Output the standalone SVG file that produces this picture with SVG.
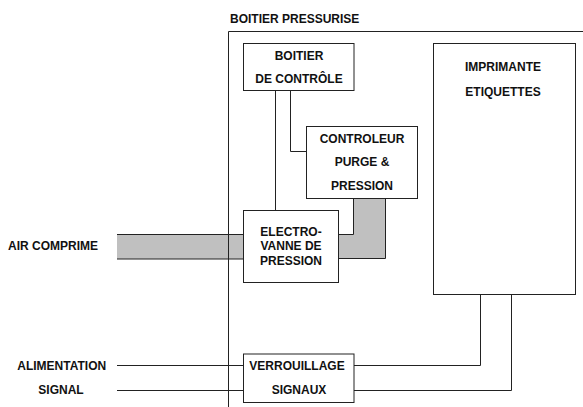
<svg xmlns="http://www.w3.org/2000/svg" width="583" height="407" viewBox="0 0 583 407">
<style>
text{font-family:"Liberation Sans",Arial,sans-serif;font-size:12px;font-weight:bold;fill:#111;text-anchor:middle}
.box{fill:#fff;stroke:#222;stroke-width:1}
.ln{fill:none;stroke:#222;stroke-width:1}
.pipe{fill:#c0c0c0;stroke:none}
</style>
<rect width="583" height="407" fill="#fff"/>
<g id="enclosure">
<text x="230" y="23" style="text-anchor:start">BOITIER PRESSURISE</text>
</g>
<g id="connectors">
<rect class="pipe" x="117" y="234.5" width="127" height="24.5"/>
<line class="ln" x1="117" y1="234.5" x2="243.5" y2="234.5"/>
<line class="ln" x1="117" y1="259" x2="243.5" y2="259"/>
<polygon class="pipe" points="338.5,234.5 353.5,234.5 353.5,198.5 385.5,198.5 385.5,258.5 338.5,258.5"/>
<polyline class="ln" points="338.5,234.5 353.5,234.5 353.5,198.5"/>
<polyline class="ln" points="338.5,258.5 385.5,258.5 385.5,198.5"/>
<line class="ln" x1="275.5" y1="90.5" x2="275.5" y2="210.5"/>
<polyline class="ln" points="290.5,90.5 290.5,151.5 306.5,151.5"/>
<line class="ln" x1="117" y1="365.5" x2="243.5" y2="365.5"/>
<line class="ln" x1="117" y1="390.5" x2="243.5" y2="390.5"/>
<polyline class="ln" points="354,365.5 480.5,365.5 480.5,294.5"/>
<polyline class="ln" points="354,390.5 511.5,390.5 511.5,294.5"/>
</g>
<polyline class="ln" points="228.5,407 228.5,31.5 583,31.5"/>
<g id="boitier-controle">
<rect class="box" x="243.5" y="43.5" width="110.5" height="47"/>
<text x="299" y="60">BOITIER</text>
<text x="299" y="83.3">DE CONTRÔLE</text>
</g>
<g id="controleur">
<rect class="box" x="306.5" y="126.5" width="111" height="72"/>
<text x="362" y="142.7">CONTROLEUR</text>
<text x="362" y="165.7">PURGE &amp;</text>
<text x="362" y="190.3">PRESSION</text>
</g>
<g id="imprimante">
<rect class="box" x="433.5" y="43.5" width="142" height="251"/>
<text x="503" y="71">IMPRIMANTE</text>
<text x="503" y="95.7">ETIQUETTES</text>
</g>
<g id="electrovanne">
<rect class="box" x="243.5" y="210.5" width="95" height="72"/>
<text x="291" y="235.7">ELECTRO-</text>
<text x="291" y="250">VANNE DE</text>
<text x="291" y="265">PRESSION</text>
</g>
<g id="verrouillage">
<rect class="box" x="243.5" y="354" width="110.5" height="48.5"/>
<text x="297" y="370">VERROUILLAGE</text>
<text x="299" y="394">SIGNAUX</text>
</g>
<g id="labels">
<text x="53" y="250.3">AIR COMPRIME</text>
<text x="61.7" y="370">ALIMENTATION</text>
<text x="61" y="394">SIGNAL</text>
</g>
</svg>
